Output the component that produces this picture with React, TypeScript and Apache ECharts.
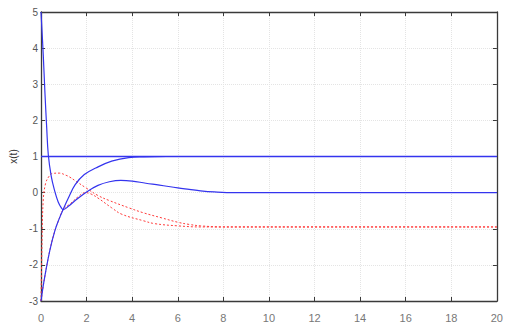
import React, { useEffect, useRef } from "react";
import * as echarts from "echarts";

const xTicks = [0, 2, 4, 6, 8, 10, 12, 14, 16, 18, 20];
const yTicks = [-3, -2, -1, 0, 1, 2, 3, 4, 5];

// blue curve starting at 5
const tBlue1 = [0, 0.1, 0.17, 0.25, 0.32, 0.45, 0.6, 0.75, 0.9, 0.97, 1.2, 1.5, 2.0, 2.5, 3.0, 3.5, 4.0, 4.6, 5.2, 6, 6.5, 7, 7.6, 8.5, 20];
const xBlue1 = [5, 3.8, 2.8, 1.8, 1.05, 0.45, 0.05, -0.25, -0.43, -0.47, -0.38, -0.22, 0.02, 0.2, 0.3, 0.34, 0.32, 0.26, 0.21, 0.13, 0.09, 0.05, 0.02, 0, 0];

// blue curve starting at -3
const tBlue2 = [0, 0.08, 0.17, 0.39, 0.61, 0.8, 0.97, 1.2, 1.5, 1.9, 2.4, 3.1, 3.85, 4.5, 5.5, 20];
const xBlue2 = [-3, -2.65, -2.31, -1.59, -1.05, -0.72, -0.47, -0.15, 0.22, 0.5, 0.68, 0.87, 0.97, 0.99, 1, 1];

// blue constant reference
const tRef = [0, 20];
const xRef = [1, 1];

// red dotted curves
const tRedA = [0, 0.05, 0.1, 0.2, 0.35, 0.5, 0.8, 1.1, 1.26, 1.5, 2, 2.5, 3, 3.85, 4.5, 5.3, 6, 6.5, 7, 8, 20];
const xRedA = [-3, -1.2, -0.2, 0.25, 0.45, 0.53, 0.54, 0.48, 0.43, 0.33, 0.12, -0.08, -0.22, -0.42, -0.56, -0.7, -0.82, -0.88, -0.92, -0.95, -0.95];

const tRedB = [0, 0.08, 0.17, 0.39, 0.61, 0.8, 0.97, 1.3, 1.6, 1.95, 2.2, 2.5, 3.1, 3.55, 4.5, 5, 6, 7, 20];
const xRedB = [-3, -2.65, -2.31, -1.59, -1.05, -0.72, -0.47, -0.3, -0.13, 0.0, -0.04, -0.15, -0.42, -0.6, -0.78, -0.86, -0.92, -0.95, -0.95];

const zip = (t: number[], v: number[]) => t.map((x, i) => [x, v[i]]);

const AXIS = "#3a3a3a";
const LABEL = "#555";
const BLUE = "#3434ee";
const RED = "#ff3a3a";

export default function App() {
  const ref = useRef<HTMLDivElement>(null);
  useEffect(() => {
    const chart = echarts.init(ref.current!, undefined, { renderer: "svg" });
    const xMin = xTicks[0], xMax = xTicks[xTicks.length - 1];
    const yMin = yTicks[0], yMax = yTicks[yTicks.length - 1];
    const common = {
      axisLine: { show: true, onZero: false, lineStyle: { color: AXIS, width: 1.3 } },
      axisTick: { show: true, inside: true, length: 4, lineStyle: { color: AXIS } },
    };
    chart.setOption({
      animation: false,
      backgroundColor: "#fff",
      grid: { left: 41, right: 3, top: 12, bottom: 14, containLabel: false },
      xAxis: [
        {
          type: "value", min: xMin, max: xMax, interval: 2, ...common,
          axisLabel: { margin: 11, fontSize: 11, color: "#777", fontFamily: "Liberation Sans, Arial" },
          splitLine: { show: true, lineStyle: { color: "#e4e4e4", type: "dotted" } },
        },
        {
          type: "value", position: "top", min: xMin, max: xMax, interval: 2, ...common,
          axisLabel: { show: false }, splitLine: { show: false },
        },
      ],
      yAxis: [
        {
          type: "value", min: yMin, max: yMax, interval: 1, ...common,
          axisLabel: { margin: 3, fontSize: 10, color: LABEL, fontFamily: "Liberation Sans, Arial" },
          splitLine: { show: true, lineStyle: { color: "#e4e4e4", type: "dotted" } },
          name: "x(t)", nameLocation: "middle", nameGap: 14, nameRotate: 90,
          nameTextStyle: { fontSize: 10, color: "#333", fontFamily: "Liberation Sans, Arial" },
        },
        {
          type: "value", position: "right", min: yMin, max: yMax, interval: 1, ...common,
          axisLabel: { show: false }, splitLine: { show: false },
        },
      ],
      series: [
        { type: "line", data: zip(tRedA, xRedA), smooth: 0.4, symbol: "none", lineStyle: { color: RED, width: 1, type: [2, 2] } },
        { type: "line", data: zip(tRedB, xRedB), smooth: 0.4, symbol: "none", lineStyle: { color: RED, width: 1, type: [2, 2] } },
        { type: "line", data: zip(tRef, xRef), symbol: "none", lineStyle: { color: BLUE, width: 1.6 } },
        { type: "line", data: zip(tBlue1, xBlue1), smooth: 0.4, symbol: "none", lineStyle: { color: BLUE, width: 1.2 } },
        { type: "line", data: zip(tBlue2, xBlue2), smooth: 0.4, symbol: "none", lineStyle: { color: BLUE, width: 1.2 } },
      ],
    });
    return () => chart.dispose();
  }, []);
  return <div ref={ref} style={{ position: "fixed", left: 0, top: 0, width: 506, height: 323 }} />;
}
